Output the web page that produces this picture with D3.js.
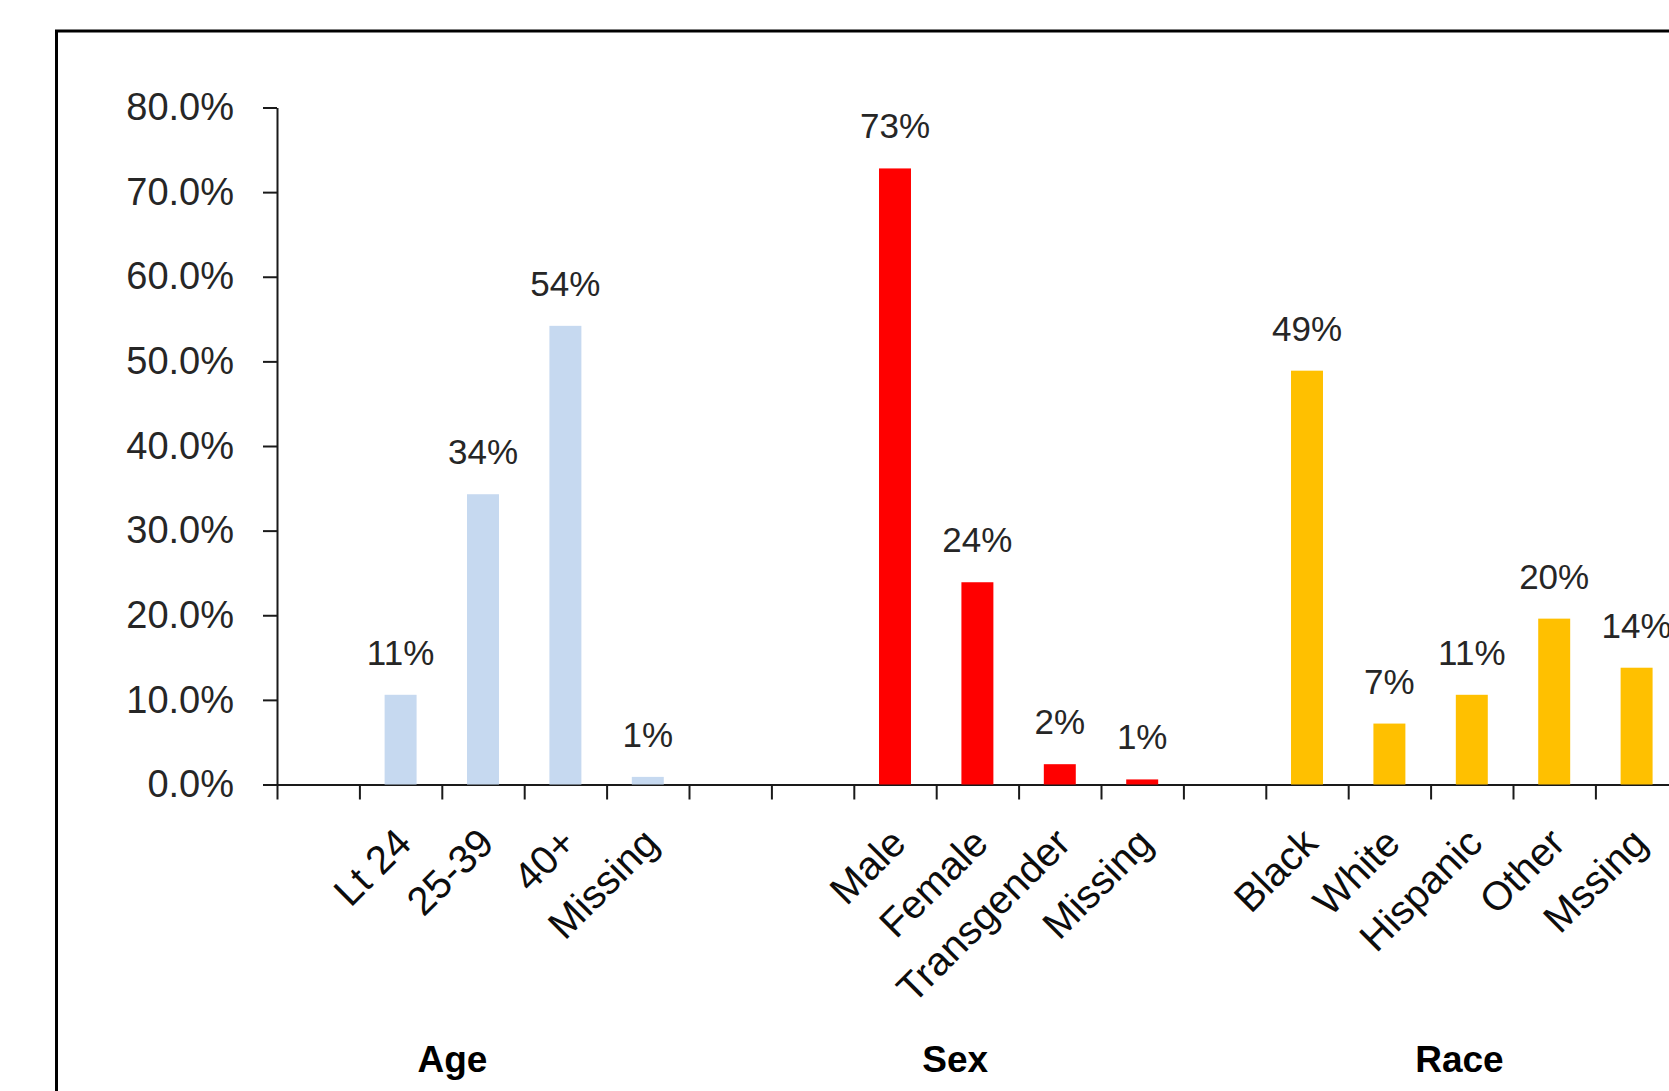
<!DOCTYPE html>
<html lang="en">

<head>
    <meta charset="UTF-8">
    <title>Demographics</title>
    <script src="https://d3js.org/d3.v7.min.js"></script>
    <style>
        body {
            margin: 0;
            background: #fff;
        }

        svg text {
            font-family: "Liberation Sans", Arial, sans-serif;
        }

        .y.axis .domain,
        .y.axis line,
        .x.axis .domain,
        .x.axis line {
            stroke: #1a1a1a;
            stroke-width: 2px;
        }

        .y.axis text {
            font-size: 38px;
            fill: #262626;
        }
    </style>
</head>

<body>
    <svg id="chart" width="1669" height="1091"></svg>
    <script>
        // values (share of total)
        const ageLabels = ['Lt 24', '25-39', '40+', 'Missing'];
        const ageValues = [0.106, 0.343, 0.542, 0.009];
        const sexLabels = ['Male', 'Female', 'Transgender', 'Missing'];
        const sexValues = [0.728, 0.239, 0.024, 0.006];
        const raceLabels = ['Black', 'White', 'Hispanic', 'Other', 'Mssing'];
        const raceValues = [0.489, 0.072, 0.106, 0.196, 0.138];
        const groupTitles = ['Age', 'Sex', 'Race'];
        const yTicks = [0, 0.1, 0.2, 0.3, 0.4, 0.5, 0.6, 0.7, 0.8];

        const groups = [
            { title: 'Age', labels: ageLabels, values: ageValues, color: '#C6D9F0', gapBefore: 1, titleAt: 2.13 },
            { title: 'Sex', labels: sexLabels, values: sexValues, color: '#FF0000', gapBefore: 2, titleAt: 8.23 },
            { title: 'Race', labels: raceLabels, values: raceValues, color: '#FFC000', gapBefore: 1, titleAt: 14.35 }
        ];

        // lay the categories out in slots, with empty slots between groups
        let slots = [];
        let bars = [];
        groups.forEach((g, gi) => {
            for (let i = 0; i < g.gapBefore; i++) slots.push(`gap-${gi}-${i}`);
            g.labels.forEach((lab, i) => {
                let key = `${g.title}-${lab}`;
                slots.push(key);
                bars.push({ key: key, label: lab, value: g.values[i], color: g.color });
            });
        });

        const svg = d3.select('#chart');
        const x0 = 277, y0 = 784.5, yTop = 107.5, step = 82.4;

        // outer frame (runs off the right and bottom edge like the source)
        svg.append('rect')
            .attr('x', 56.5).attr('y', 31)
            .attr('width', 2000).attr('height', 2000)
            .attr('fill', 'none')
            .attr('stroke', '#000')
            .attr('stroke-width', 3);

        const xScale = d3.scaleBand()
            .domain(slots)
            .range([x0, x0 + step * slots.length])
            .padding(0);

        const slotScale = d3.scaleLinear()
            .domain([0, slots.length])
            .range([x0, x0 + step * slots.length]);

        const yScale = d3.scaleLinear()
            .domain([0, 0.8])
            .range([y0, yTop]);

        // y axis
        svg.append('g')
            .attr('class', 'y axis')
            .attr('transform', `translate(${x0},0)`)
            .call(d3.axisLeft(yScale)
                .tickValues(yTicks)
                .tickFormat(d3.format('.1%'))
                .tickSize(14)
                .tickSizeOuter(0)
                .tickPadding(29));

        // x axis, ticks between categories
        svg.append('g')
            .attr('class', 'x axis')
            .attr('transform', `translate(0,${y0})`)
            .call(d3.axisBottom(slotScale)
                .tickValues(d3.range(0, slots.length + 1))
                .tickFormat('')
                .tickSize(15)
                .tickSizeOuter(0));

        const barW = xScale.bandwidth() * 0.388;

        svg.selectAll('rect.bar')
            .data(bars)
            .join('rect')
            .attr('class', 'bar')
            .attr('x', d => xScale(d.key) + (xScale.bandwidth() - barW) / 2)
            .attr('y', d => yScale(d.value))
            .attr('width', barW)
            .attr('height', d => y0 - yScale(d.value))
            .attr('fill', d => d.color);

        // value labels
        svg.selectAll('text.value')
            .data(bars)
            .join('text')
            .attr('class', 'value')
            .attr('x', d => xScale(d.key) + xScale.bandwidth() / 2)
            .attr('y', d => yScale(d.value) - 30)
            .attr('text-anchor', 'middle')
            .attr('font-size', 35)
            .attr('fill', '#262626')
            .text(d => d3.format('.0%')(d.value));

        // rotated category labels
        svg.selectAll('text.cat')
            .data(bars)
            .join('text')
            .attr('class', 'cat')
            .attr('transform', d => `translate(${xScale(d.key) + xScale.bandwidth() / 2 + 3},${y0 + 51}) rotate(-45)`)
            .attr('text-anchor', 'end')
            .attr('dy', '0.35em')
            .attr('font-size', 40)
            .attr('fill', '#0d0d0d')
            .text(d => d.label);

        // group titles
        svg.selectAll('text.group')
            .data(groups)
            .join('text')
            .attr('class', 'group')
            .attr('x', d => slotScale(d.titleAt))
            .attr('y', 1072)
            .attr('text-anchor', 'middle')
            .attr('font-size', 37)
            .attr('font-weight', 'bold')
            .attr('fill', '#000')
            .text((d, i) => groupTitles[i]);
    </script>
</body>

</html>
